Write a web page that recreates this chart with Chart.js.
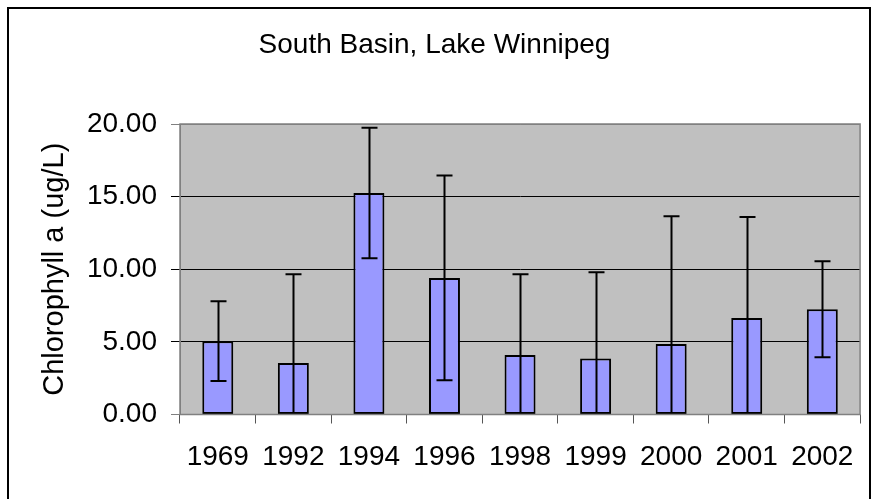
<!DOCTYPE html>
<html>
<head>
<meta charset="utf-8">
<script src="https://cdn.jsdelivr.net/npm/chart.js@4.4.0/dist/chart.umd.min.js"></script>
<style>
  body { margin: 0; background: #fff; }
  canvas { display: block; }
</style>
</head>
<body>
<canvas id="chlChart" width="871" height="499"></canvas>
<script>
// Data
const years = ['1969', '1992', '1994', '1996', '1998', '1999', '2000', '2001', '2002'];
const chlValues = [5.05, 3.55, 15.25, 9.4, 4.1, 3.85, 4.85, 6.65, 7.25];
const chlErrors = [2.75, 6.1, 4.5, 7.05, 5.55, 5.95, 8.8, 6.95, 3.3];
const yTicks = [0, 5, 10, 15, 20];

const FONT = "'Liberation Sans', Arial, sans-serif";

// Gray plot background and outer frame
const frame = {
  id: 'frame',
  beforeDraw(chart) {
    const { ctx, chartArea: a } = chart;
    ctx.save();
    ctx.fillStyle = '#fff';
    ctx.fillRect(0, 0, chart.width, chart.height);
    ctx.strokeStyle = '#000';
    ctx.lineWidth = 2;
    ctx.strokeRect(8, 8, 862, 600);
    ctx.fillStyle = '#c0c0c0';
    ctx.fillRect(a.left, a.top, a.right - a.left, a.bottom - a.top);
    ctx.restore();
  },
  afterDraw(chart) {
    const { ctx, chartArea: a } = chart;
    ctx.save();
    ctx.strokeStyle = '#808080';
    ctx.lineWidth = 1.5;
    ctx.strokeRect(a.left, a.top, a.right - a.left, a.bottom - a.top);
    ctx.restore();
  }
};

// Error bars drawn from chlErrors through the y scale
const errorBars = {
  id: 'errorBars',
  afterDatasetsDraw(chart) {
    const { ctx, chartArea: a } = chart;
    const y = chart.scales.y;
    const meta = chart.getDatasetMeta(0);
    ctx.save();
    ctx.beginPath();
    ctx.rect(a.left, a.top - 2, a.right - a.left, a.bottom - a.top + 2);
    ctx.clip();
    ctx.strokeStyle = '#000';
    ctx.lineWidth = 2;
    meta.data.forEach((bar, i) => {
      const v = chlValues[i];
      const e = chlErrors[i];
      const yTop = y.getPixelForValue(v + e);
      const yBot = y.getPixelForValue(v - e);
      const x = Math.round(bar.x) + 0.5;
      ctx.beginPath();
      ctx.moveTo(x, yTop);
      ctx.lineTo(x, yBot);
      ctx.moveTo(x - 8, yTop);
      ctx.lineTo(x + 8, yTop);
      if (v - e >= 0) {
        ctx.moveTo(x - 8, yBot);
        ctx.lineTo(x + 8, yBot);
      }
      ctx.stroke();
    });
    ctx.restore();
  }
};

new Chart(document.getElementById('chlChart'), {
  type: 'bar',
  data: {
    labels: years,
    datasets: [{
      label: 'Chlorophyll a',
      data: chlValues,
      backgroundColor: '#9999ff',
      borderColor: '#000',
      borderWidth: 2,
      borderSkipped: false,
      barPercentage: 0.41,
      categoryPercentage: 1
    }]
  },
  options: {
    responsive: false,
    devicePixelRatio: 1,
    animation: false,
    layout: { padding: { left: 8, right: 10, top: 0, bottom: 0 } },
    plugins: {
      legend: { display: false },
      tooltip: { enabled: false },
      title: {
        display: true,
        text: 'South Basin, Lake Winnipeg',
        color: '#000',
        font: { family: FONT, size: 28, weight: 'normal' },
        padding: { top: 28, bottom: 62.4 }
      }
    },
    scales: {
      x: {
        afterFit(scale) { scale.height = 84.5; },
        grid: {
          offset: true,
          drawOnChartArea: false,
          tickLength: 9,
          color: '#555'
        },
        border: { color: '#808080' },
        ticks: {
          color: '#000',
          padding: 17,
          font: { family: FONT, size: 28 }
        }
      },
      y: {
        min: 0,
        max: 20,
        afterFit(scale) { scale.width = 172; },
        afterBuildTicks(scale) { scale.ticks = yTicks.map(v => ({ value: v })); },
        grid: {
          tickLength: 9,
          color: ctx => (ctx.tick && (ctx.tick.value === 0 || ctx.tick.value === 20)) ? '#808080' : '#000'
        },
        border: { color: '#808080' },
        ticks: {
          color: '#000',
          padding: 14,
          font: { family: FONT, size: 28 },
          callback: v => Number(v).toFixed(2)
        },
        title: {
          display: true,
          text: 'Chlorophyll a (ug/L)',
          color: '#000',
          font: { family: FONT, size: 29 },
          padding: { top: 30, bottom: 0 }
        }
      }
    }
  },
  plugins: [frame, errorBars]
});
</script>
</body>
</html>
